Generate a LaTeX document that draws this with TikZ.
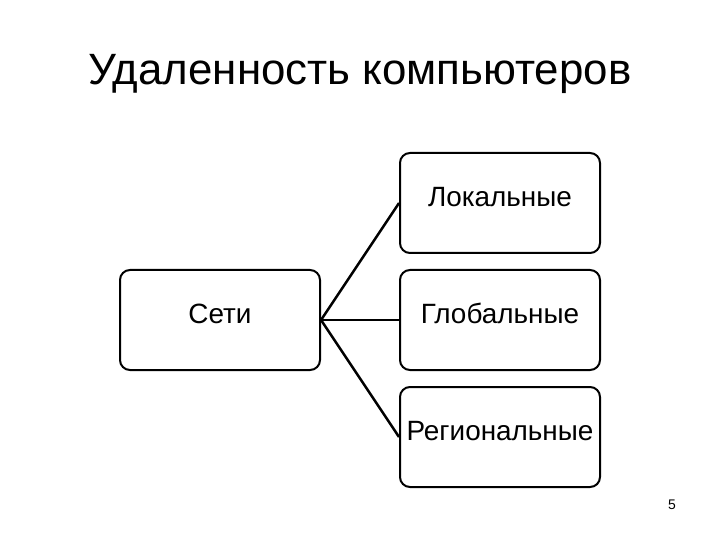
\documentclass[tikz,border=0pt]{standalone}
\usepackage{fontspec}
\setmainfont{Liberation Sans}
\usetikzlibrary{positioning}

\definecolor{boxline}{RGB}{0, 0, 0}
\definecolor{linkcol}{RGB}{0, 0, 0}

\tikzset{
    netbox/.style={draw=boxline, line width=2bp, rounded corners=10bp,
        minimum width=200bp, minimum height=100bp, inner sep=0pt,
        text height=0.8em, text depth=0.1em, font=\fontsize{28}{30}\selectfont},
    netlink/.style={linkcol, line width=2.5bp}
}

\begin{document}
\begin{tikzpicture}[x=1bp, y=-1bp]
    \useasboundingbox (0,0) rectangle (720,540);

    % Title
    \node[font=\fontsize{44}{50}\selectfont] (title) at (360,74) {Удаленность компьютеров};

    % Main box on the left
    \node[netbox] (seti) at (220,320) {Сети};

    % Three kinds of networks
    \node[netbox] (glob) at (500,320) {Глобальные};
    \node[netbox, above=15bp of glob] (lok) {Локальные};
    \node[netbox, below=15bp of glob] (reg) {Региональные};

    % Links
    \draw[netlink] (seti.east) -- (lok.west);
    \draw[netlink] (seti.east) -- (glob.west);
    \draw[netlink] (seti.east) -- (reg.west);

    % Page number
    \node[font=\fontsize{14}{16}\selectfont] (page) at (672,505) {5};

\end{tikzpicture}
\end{document}
